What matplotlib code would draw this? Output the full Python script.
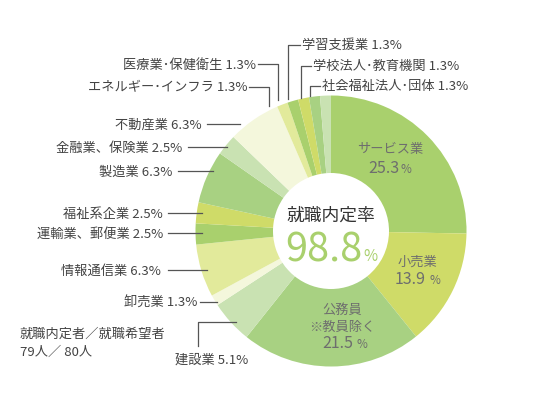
import matplotlib
matplotlib.use("Agg")
import matplotlib.pyplot as plt

plt.rcParams['font.family'] = ['Noto Sans CJK JP', 'DejaVu Sans']

categories = ["サービス業", "小売業", "公務員※教員除く", "建設業", "卸売業", "情報通信業",
              "運輸業、郵便業", "福祉系企業", "製造業", "金融業、保険業", "不動産業",
              "エネルギー･インフラ", "医療業･保健衛生", "学習支援業", "学校法人･教育機関",
              "社会福祉法人･団体"]
values = [25.3, 13.9, 21.5, 5.1, 1.3, 6.3, 2.5, 2.5, 6.3, 2.5, 6.3, 1.3, 1.3, 1.3, 1.3, 1.3]
palette = ["#a9d06d", "#cfdb68", "#a8d182", "#c9e2b2", "#f4f7dc", "#e2ea9b"]
colors = [palette[i % 6] for i in range(len(values))]
rate_title = "就職内定率"
rate_value = "98.8"
note_lines = ["就職内定者／就職希望者", "79人／ 80人"]

W, H = 548, 410
fig = plt.figure(figsize=(W / 100, H / 100), dpi=100)
ax = fig.add_axes([0, 0, 1, 1])

def Y(y):
    return H - y

cx, cy, R, r_in = 331, 232, 135.5, 58
ax.pie(values, colors=colors, startangle=90, counterclock=False, radius=R,
       center=(cx, Y(cy)), wedgeprops=dict(width=R - r_in, linewidth=0))
ax.set_xlim(0, W)
ax.set_ylim(0, H)
ax.set_aspect('equal')
ax.axis('off')

tc = "#444444"
lc = "#555555"
lw = 0.9
fs = 9.5

def lab(i):
    return f"{categories[i]} {values[i]}%"

# top labels with elbow leaders (text left, line x, line bottom y)
top = [(13, 302, 45.5, 288, 100), (14, 313, 66.5, 301, 99), (15, 322, 86.5, 310, 97)]
for i, tx, ty, lx, ly in top:
    ax.text(tx, Y(ty), lab(i), ha='left', va='center', fontsize=fs, color=tc)
    ax.plot([tx - 2, lx, lx], [Y(ty), Y(ty), Y(ly)], color=lc, lw=lw)

top_left = [(12, 256, 65, 278, 101), (11, 247, 88, 269, 107)]
for i, tx, ty, lx, ly in top_left:
    ax.text(tx, Y(ty), lab(i), ha='right', va='center', fontsize=fs, color=tc)
    ax.plot([tx + 2, lx, lx], [Y(ty), Y(ty), Y(ly)], color=lc, lw=lw)

# left labels with horizontal leaders (text right, y, line start, line end)
left = [(10, 202, 125, 207, 240), (9, 182, 148, 188, 227), (8, 172, 172, 178, 213),
        (7, 163, 214, 168, 202), (6, 163, 234, 168, 202), (5, 161, 271, 168, 207),
        (4, 197, 303, 200, 217)]
for i, tx, ty, x0, x1 in left:
    ax.text(tx, Y(ty), lab(i), ha='right', va='center', fontsize=fs, color=tc)
    ax.plot([x0, x1], [Y(ty), Y(ty)], color=lc, lw=lw)

# 建設業
ax.text(175, Y(360), lab(3), ha='left', va='center', fontsize=fs, color=tc)
ax.plot([198, 198, 236], [Y(347), Y(323), Y(323)], color=lc, lw=lw)

# note
ax.text(20, Y(334), note_lines[0], ha='left', va='center', fontsize=fs, color=tc)
ax.text(20, Y(352), note_lines[1], ha='left', va='center', fontsize=fs, color=tc)

# inside labels
ic = "#6e6e6e"
ax.text(390, Y(150), categories[0], ha='center', va='center', fontsize=9.5, color=ic)
ax.text(399, Y(173), f"{values[0]}", ha='right', va='baseline', fontsize=11.5, color=ic)
ax.text(400, Y(173), "%", ha='left', va='baseline', fontsize=8.5, color=ic)

ax.text(417, Y(262), categories[1], ha='center', va='center', fontsize=9.5, color=ic)
ax.text(426, Y(284), f"{values[1]}", ha='right', va='baseline', fontsize=11.5, color=ic)
ax.text(429, Y(284), "%", ha='left', va='baseline', fontsize=8.5, color=ic)

ax.text(342, Y(310), "公務員", ha='center', va='center', fontsize=9.5, color=ic)
ax.text(342, Y(327), "※教員除く", ha='center', va='center', fontsize=9.5, color=ic)
ax.text(353, Y(348), f"{values[2]}", ha='right', va='baseline', fontsize=11.5, color=ic)
ax.text(356, Y(348), "%", ha='left', va='baseline', fontsize=8.5, color=ic)

# center
ax.text(331, Y(215.5), rate_title, ha='center', va='center', fontsize=12.8, color="#333333")
ax.text(362, Y(261), rate_value, ha='right', va='baseline', fontsize=28.5, color="#a9d06d")
ax.text(363, Y(261), "%", ha='left', va='baseline', fontsize=11, color="#a9d06d")

fig.savefig("out.png", dpi=100)
